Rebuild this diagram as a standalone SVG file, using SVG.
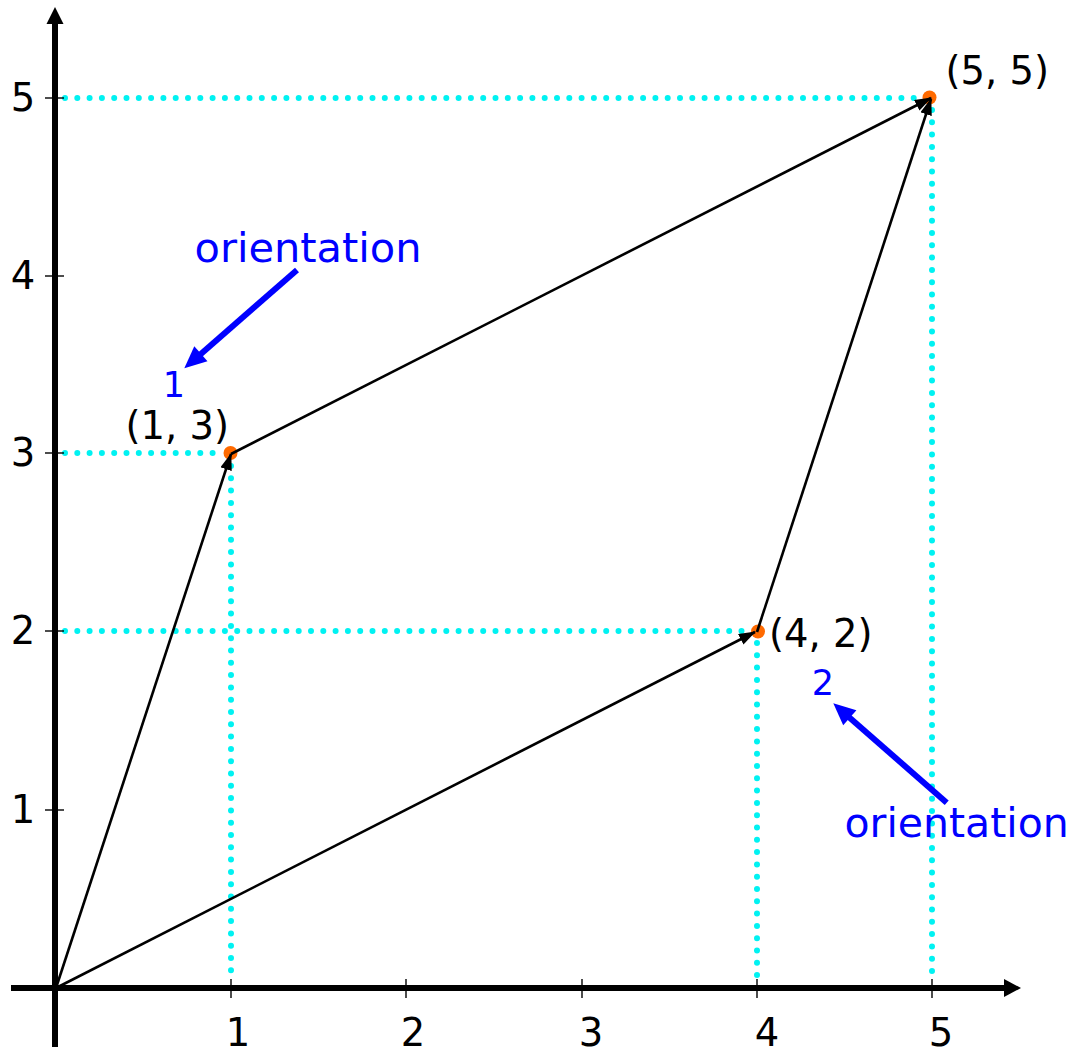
<svg xmlns="http://www.w3.org/2000/svg" width="1072" height="1048" viewBox="0 0 1072 1048">
<defs>
<style>
.guide{stroke:#00f2f2;stroke-width:6;stroke-linecap:round;stroke-dasharray:0 12.3;fill:none}
.axis{stroke:#000;stroke-width:6;fill:none}
.tick{stroke:#000;stroke-width:1.4}
.vec{stroke:#000;stroke-width:2.6;fill:none;marker-end:url(#ah)}
.pt{fill:#ff6a00}
.lbl{font-family:"DejaVu Sans",sans-serif;font-size:38.5px;fill:#000}
.blue{font-family:"DejaVu Sans",sans-serif;fill:#0000ff}
.barrow{stroke:#0000ff;stroke-width:6;fill:none}
</style>
<marker id="ah" markerUnits="userSpaceOnUse" markerWidth="18" markerHeight="12" refX="16" refY="6" orient="auto">
<path d="M0,0 L17,6 L0,12 z" fill="#000"/>
</marker>
</defs>
<rect width="1072" height="1048" fill="#fff"/>
<g id="guides">
<line class="guide" x1="65" y1="98" x2="922" y2="98"/>
<line class="guide" x1="932" y1="110" x2="932" y2="976"/>
<line class="guide" x1="65" y1="453" x2="224" y2="453"/>
<line class="guide" x1="231" y1="466" x2="231" y2="976"/>
<line class="guide" x1="65" y1="631" x2="750" y2="631"/>
<line class="guide" x1="757" y1="643" x2="757" y2="976"/>
</g>
<g id="axes">
<line class="axis" x1="11" y1="988" x2="1006" y2="988"/>
<polygon points="1004,979 1021,988 1004,997" fill="#000"/>
<line class="axis" x1="55" y1="1047" x2="55" y2="22"/>
<polygon points="46.5,24 55,7 63.5,24" fill="#000"/>
<line class="tick" x1="231" y1="979" x2="231" y2="998"/>
<line class="tick" x1="406" y1="979" x2="406" y2="998"/>
<line class="tick" x1="582" y1="979" x2="582" y2="998"/>
<line class="tick" x1="757" y1="979" x2="757" y2="998"/>
<line class="tick" x1="932" y1="979" x2="932" y2="998"/>
<line class="tick" x1="45" y1="98" x2="64" y2="98"/>
<line class="tick" x1="45" y1="276" x2="64" y2="276"/>
<line class="tick" x1="45" y1="453" x2="64" y2="453"/>
<line class="tick" x1="45" y1="631" x2="64" y2="631"/>
<line class="tick" x1="45" y1="810" x2="64" y2="810"/>
<g class="lbl" text-anchor="middle">
<text x="238" y="1046">1</text>
<text x="413" y="1046">2</text>
<text x="591" y="1046">3</text>
<text x="767" y="1046">4</text>
<text x="941" y="1046">5</text>
<text x="23" y="111">5</text>
<text x="23" y="289">4</text>
<text x="23" y="466">3</text>
<text x="23" y="644">2</text>
<text x="23" y="823">1</text>
</g>
</g>
<g id="points">
<circle id="p13" class="pt" cx="230.5" cy="453" r="7"/>
<circle id="p42" class="pt" cx="758" cy="631.5" r="7"/>
<circle id="p55" class="pt" cx="929.5" cy="97.5" r="7"/>
</g>
<g id="connectors">
<line class="vec" x1="56" y1="988" x2="231" y2="454"/>
<line class="vec" x1="56" y1="988" x2="755" y2="632"/>
<line class="vec" x1="231" y1="454" x2="931" y2="98"/>
<line class="vec" x1="757" y1="632" x2="931" y2="99"/>
</g>
<g id="point-labels" class="lbl">
<text x="125.5" y="439">(1, 3)</text>
<text x="769" y="647">(4, 2)</text>
<text x="945.5" y="83.5">(5, 5)</text>
</g>
<g id="orientation1">
<text class="blue" x="194.5" y="261.7" font-size="41.5">orientation</text>
<line class="barrow" x1="297" y1="270" x2="198" y2="356.5"/>
<polygon points="184.3,368.3 207.5,361.3 194.3,346.3" fill="#0000ff"/>
<text class="blue" x="174" y="397" font-size="35" text-anchor="middle">1</text>
</g>
<g id="orientation2">
<text class="blue" x="844.5" y="836.7" font-size="41">orientation</text>
<line class="barrow" x1="946.7" y1="802.7" x2="846.8" y2="715.2"/>
<polygon points="833.3,703.3 856.4,710.3 843.2,725.3" fill="#0000ff"/>
<text class="blue" x="823" y="695" font-size="35" text-anchor="middle">2</text>
</g>
</svg>
